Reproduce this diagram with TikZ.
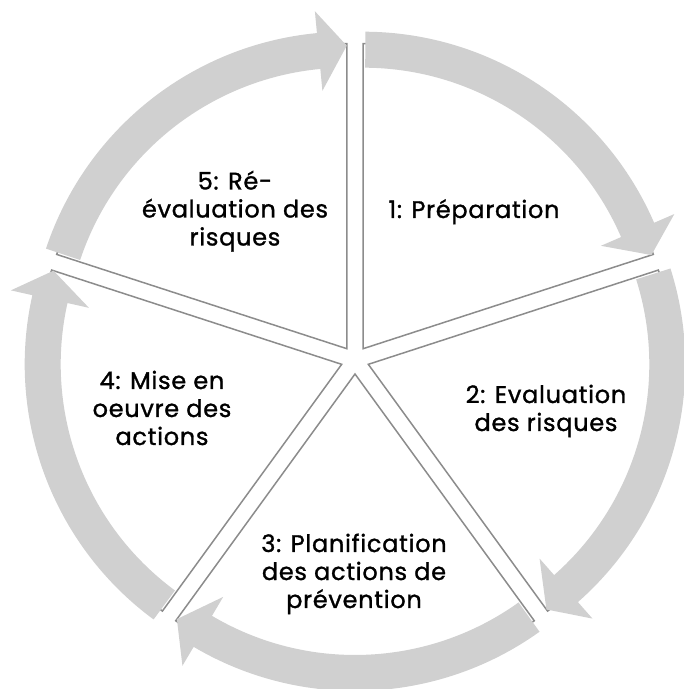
\documentclass[tikz,border=0pt]{standalone}
\usepackage{fontspec}
\setmainfont{Poppins}
\newfontfamily\lblfont{Poppins}[FakeBold=1.2,LetterSpace=3]
\definecolor{linegray}{RGB}{140,140,140}
\definecolor{bandgray}{RGB}{208,208,208}
\begin{document}
\begin{tikzpicture}[x=1pt,y=1pt,
  sect/.style={fill=white,draw=linegray,line width=1.5pt,line join=miter},
  band/.style={fill=bandgray,draw=none},
  lbl/.style={align=center,font=\lblfont\fontsize{24}{28}\selectfont,text=black,inner sep=0pt,anchor=base}]
\useasboundingbox (0,0) rectangle (684,689);
\coordinate (C) at (355,329);
\foreach \p in {54,-18,-90,-162,126}{
  \begin{scope}[shift={(C)},shift={(\p:14)}]
    \draw[sect] (0,0) -- (\p+36:305) arc[start angle=\p+36,end angle=\p-36,radius=305] -- cycle;
  \end{scope}}
\foreach \p in {54,-18,-90,-162,126}{
  \begin{scope}[shift={(C)},shift={(\p:14)}]
    \fill[band] (\p+35.6:317) arc[start angle=\p+35.6,end angle=\p-30.6,radius=317]
      -- (\p-30.6:339) -- (\p-36:303) -- (\p-30.6:259) -- (\p-30.6:281)
      arc[start angle=\p-30.6,end angle=\p+35.6,radius=281] -- cycle;
  \end{scope}}
\node[lbl] (s1) at (474,471) {1: Préparation};
\node[lbl] (s2) at (546,258) {2: Evaluation\\des risques};
\node[lbl] (s3) at (354,81) {3: Planification\\des actions de\\prévention};
\node[lbl] (s4) at (162,244) {4: Mise en\\oeuvre des\\actions};
\node[lbl] (s5) at (235,443.5) {5: Ré-\\évaluation des\\risques};
\end{tikzpicture}
\end{document}
